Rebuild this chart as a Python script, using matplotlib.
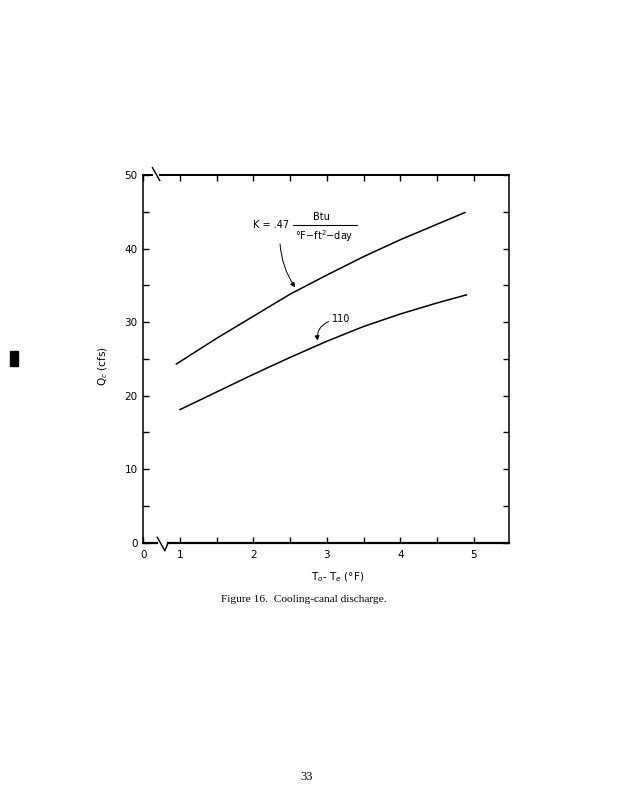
import matplotlib
matplotlib.use("Agg")
import matplotlib.pyplot as plt
from matplotlib.lines import Line2D
from matplotlib.patches import Rectangle

# curve data
dt_upper = [0.95, 1.5, 2.0, 2.5, 3.0, 3.5, 4.0, 4.5, 4.88]
q_upper = [24.3, 27.8, 30.8, 33.8, 36.4, 38.9, 41.2, 43.3, 44.9]
dt_lower = [1.0, 1.5, 2.0, 2.5, 3.0, 3.5, 4.0, 4.5, 4.9]
q_lower = [18.1, 20.5, 22.9, 25.2, 27.4, 29.4, 31.1, 32.6, 33.7]

x_ticks = [0.5, 1, 2, 3, 4, 5]          # 0.5 stands in for the broken-axis "0"
x_labels = ["0", "1", "2", "3", "4", "5"]
y_ticks = [0, 10, 20, 30, 40, 50]
y_labels = ["0", "10", "20", "30", "40", "50"]

W, H = 618, 800
fig = plt.figure(figsize=(W / 100, H / 100), dpi=100)
fig.patch.set_facecolor("white")

x0, x1, y0, y1 = 143.3, 509.0, 175.0, 542.7
ax = fig.add_axes([x0 / W, 1 - y1 / H, (x1 - x0) / W, (y1 - y0) / H])
ax.set_xlim(0.5, 5.48)
ax.set_ylim(0, 50)

lc = "black"
ax.plot(dt_upper, q_upper, color=lc, lw=1.1)
ax.plot(dt_lower, q_lower, color=lc, lw=1.1)

ax.set_xticks(x_ticks)
ax.set_xticklabels(x_labels)
ax.set_xticks([1.5, 2.5, 3.5, 4.5], minor=True)
ax.set_yticks(y_ticks)
ax.set_yticklabels(y_labels)
ax.set_yticks([5, 15, 25, 35, 45], minor=True)
ax.tick_params(which="both", direction="in", top=True, right=True,
               length=4.5, width=1.0, labelsize=7.5, pad=4)
ax.tick_params(axis="x", which="major", pad=5)

for s in ax.spines.values():
    s.set_linewidth(1.1)

# broken-axis marks (bottom and top)
ax.spines["bottom"].set_visible(False)
ax.spines["top"].set_visible(False)
tr = ax.transAxes
ax.add_line(Line2D([0, 0.038], [0, 0], transform=tr, color=lc, lw=1.6, clip_on=False))
ax.add_line(Line2D([0.068, 1], [0, 0], transform=tr, color=lc, lw=1.6, clip_on=False))
ax.add_line(Line2D([0.038, 0.059, 0.068], [0.015, -0.022, 0.0], transform=tr,
                   color=lc, lw=1.0, clip_on=False))
ax.add_line(Line2D([0, 0.025], [1, 1], transform=tr, color=lc, lw=1.4, clip_on=False))
ax.add_line(Line2D([0.045, 1], [1, 1], transform=tr, color=lc, lw=1.4, clip_on=False))
ax.add_line(Line2D([0.025, 0.045], [1.02, 0.985], transform=tr,
                   color=lc, lw=1.0, clip_on=False))

ax.set_xlabel(r"T$_o$- T$_e$ ($\degree$F)", fontsize=7.5)
ax.xaxis.set_label_coords(0.53, -0.074)
ax.set_ylabel(r"Q$_c$ (cfs)", fontsize=7.5)
ax.yaxis.set_label_coords(-0.09, 0.48)

# K annotations
ax.text(2.24, 43.2, "K = .47", fontsize=7, ha="center", va="center")
ax.add_line(Line2D([2.54, 3.41], [43.2, 43.2], color=lc, lw=0.8))
ax.text(2.93, 44.3, "Btu", fontsize=7, ha="center", va="center")
ax.text(2.96, 41.7, r"$\degree$F$-$ft$^2$$-$day", fontsize=7, ha="center", va="center")
ax.annotate("", xy=(2.59, 34.4), xytext=(2.36, 41.0),
            arrowprops=dict(arrowstyle="-|>", color=lc, lw=0.7,
                            mutation_scale=7,
                            connectionstyle="arc3,rad=0.15"))
ax.text(3.07, 30.4, "110", fontsize=7, ha="left", va="center")
ax.annotate("", xy=(2.88, 27.1), xytext=(3.06, 30.2),
            arrowprops=dict(arrowstyle="-|>", color=lc, lw=0.7,
                            mutation_scale=7,
                            connectionstyle="arc3,rad=0.45"))

fig.text(304 / W, 1 - 599 / H, "Figure 16.  Cooling-canal discharge.",
         fontsize=8.2, family="Liberation Serif", ha="center", va="center")
fig.text(307 / W, 1 - 777 / H, "33", fontsize=9, family="Liberation Serif",
         ha="center", va="center")

# scan speck on the left margin
fig.patches.append(Rectangle((10 / W, 1 - 366 / H), 8 / W, 15 / H,
                             transform=fig.transFigure, color="black"))

fig.savefig("out.png", dpi=100)
